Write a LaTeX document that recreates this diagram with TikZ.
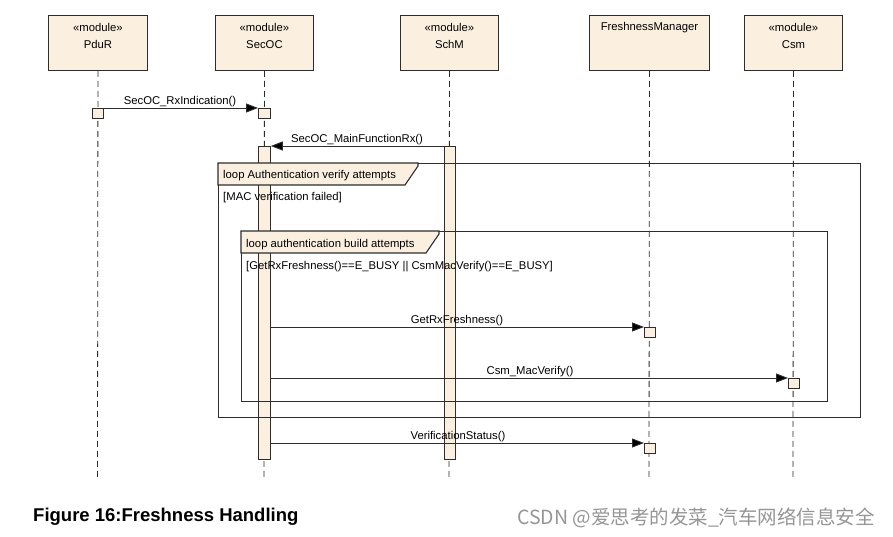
\documentclass[tikz,border=0pt]{standalone}
\usepackage{fontspec}
\setmainfont{Liberation Sans}
\newfontfamily\cjk{Noto Sans CJK SC}
\usetikzlibrary{arrows.meta}
\definecolor{beige}{RGB}{251,240,224}
\definecolor{ln}{RGB}{45,45,45}
\definecolor{wm}{RGB}{150,150,150}
\begin{document}
\begin{tikzpicture}[x=1pt,y=-1pt,
  txt/.style={font=\fontsize{11.3}{13}\selectfont, inner sep=0pt, text=black, yshift=-1.5pt},
  head/.style={draw=ln, fill=beige, line width=0.9pt, anchor=north west, inner sep=0pt},
  life/.style={draw=ln, line width=0.8pt, dash pattern=on 6pt off 4pt},
  bar/.style={draw=ln, fill=beige, line width=0.8pt, anchor=north west, inner sep=0pt},
  frame/.style={draw=ln, line width=1.1pt, anchor=north west, inner sep=0pt},
  tab/.style={draw=ln, fill=beige, line width=1.1pt},
  msg/.style={draw=ln, line width=0.9pt, -{Triangle[length=12pt,width=9pt,fill=black]}}]
\useasboundingbox (0,0) rectangle (893,537);
\fill[white] (0,0) rectangle (893,537);

% heads
\node[head, minimum width=99pt, minimum height=55pt] (pdur) at (48,15) {};
\node[head, minimum width=98pt, minimum height=55pt] (secoc) at (215,15) {};
\node[head, minimum width=98pt, minimum height=55pt] (schm) at (400,15) {};
\node[head, minimum width=120pt, minimum height=55pt] (fm) at (589,15) {};
\node[head, minimum width=98pt, minimum height=55pt] (csm) at (744,15) {};
\node[txt] (pdurs) at (pdur.north |- 0,26) {«module»};
\node[txt] (pdurn) at (pdur.north |- 0,43) {PduR};
\node[txt] (secocs) at (secoc.north |- 0,26) {«module»};
\node[txt] (secocn) at (secoc.north |- 0,43) {SecOC};
\node[txt] (schms) at (schm.north |- 0,26) {«module»};
\node[txt] (schmn) at (schm.north |- 0,43) {SchM};
\node[txt] (fmn) at (fm.north |- 0,26) {FreshnessManager};
\node[txt] (csms) at (csm.north |- 0,26) {«module»};
\node[txt] (csmn) at (csm.north |- 0,43) {Csm};

% lifeline ends
\coordinate (pdurE) at (97.5,478);
\coordinate (secocE) at (264,478);
\coordinate (schmE) at (449,478);
\coordinate (fmE) at (649,478);
\coordinate (csmE) at (793,478);
\draw[life] (pdur.south) -- (pdurE);
\draw[life] (secoc.south) -- (secocE);
\draw[life] (schm.south) -- (schmE);
\draw[life] (fm.south) -- (fmE);
\draw[life] (csm.south) -- (csmE);

% activations
\node[bar, minimum width=11pt, minimum height=10pt] (pb) at (92,108) {};
\node[bar, minimum width=12pt, minimum height=10pt] (sb) at (258,108) {};
\node[bar, minimum width=12pt, minimum height=313pt] (secbar) at (258,146) {};
\node[bar, minimum width=11pt, minimum height=313pt] (schbar) at (444,146) {};
\node[bar, minimum width=11pt, minimum height=10pt] (fm1) at (644,327) {};
\node[bar, minimum width=11pt, minimum height=10pt] (csm1) at (788,378) {};
\node[bar, minimum width=11pt, minimum height=10pt] (fm2) at (644,443) {};

% frames
\node[frame, minimum width=642pt, minimum height=254pt] (outer) at (218,163) {};
\node[frame, minimum width=586pt, minimum height=170pt] (inner) at (241,231) {};
\draw[tab] (outer.north west) -- (418,163) -- (418,166) -- (405,185) -- (218,185) -- cycle;
\draw[tab] (inner.north west) -- (439,231) -- (439,234) -- (426,253) -- (241,253) -- cycle;
\node[txt, anchor=west] (outl) at (223,174) {loop Authentication verify attempts};
\node[txt, anchor=west] (outg) at (223,196) {[MAC verification failed]};
\node[txt, anchor=west] (inl) at (246,243) {loop authentication build attempts};
\node[txt, anchor=west] (ing) at (246,265) {[GetRxFreshness()==E\_BUSY || CsmMacVerify()==E\_BUSY]};

% messages
\draw[msg] (pb.north east) -- (sb.north west);
\node[txt] (m1) at (180,100) {SecOC\_RxIndication()};
\draw[msg] (schbar.north west) -- (secbar.north east);
\node[txt] (m2) at (357,138) {SecOC\_MainFunctionRx()};
\draw[msg] (secbar.east |- fm1.north) -- (fm1.north west);
\node[txt] (m3) at (457,319) {GetRxFreshness()};
\draw[msg] (secbar.east |- csm1.north) -- (csm1.north west);
\node[txt] (m4) at (530,370) {Csm\_MacVerify()};
\draw[msg] (secbar.east |- fm2.north) -- (fm2.north west);
\node[txt] (m5) at (458,435) {VerificationStatus()};

% caption
\node[anchor=west, inner sep=0pt, font=\bfseries\fontsize{18.5}{20}\selectfont] (cap) at (33,517) {Figure 16:Freshness Handling};
\node[anchor=west, inner sep=0pt, text=wm, font=\cjk\fontsize{19.5}{22}\selectfont] (wmk) at (517,518) {CSDN @爱思考的发菜\_汽车网络信息安全};
\end{tikzpicture}
\end{document}
